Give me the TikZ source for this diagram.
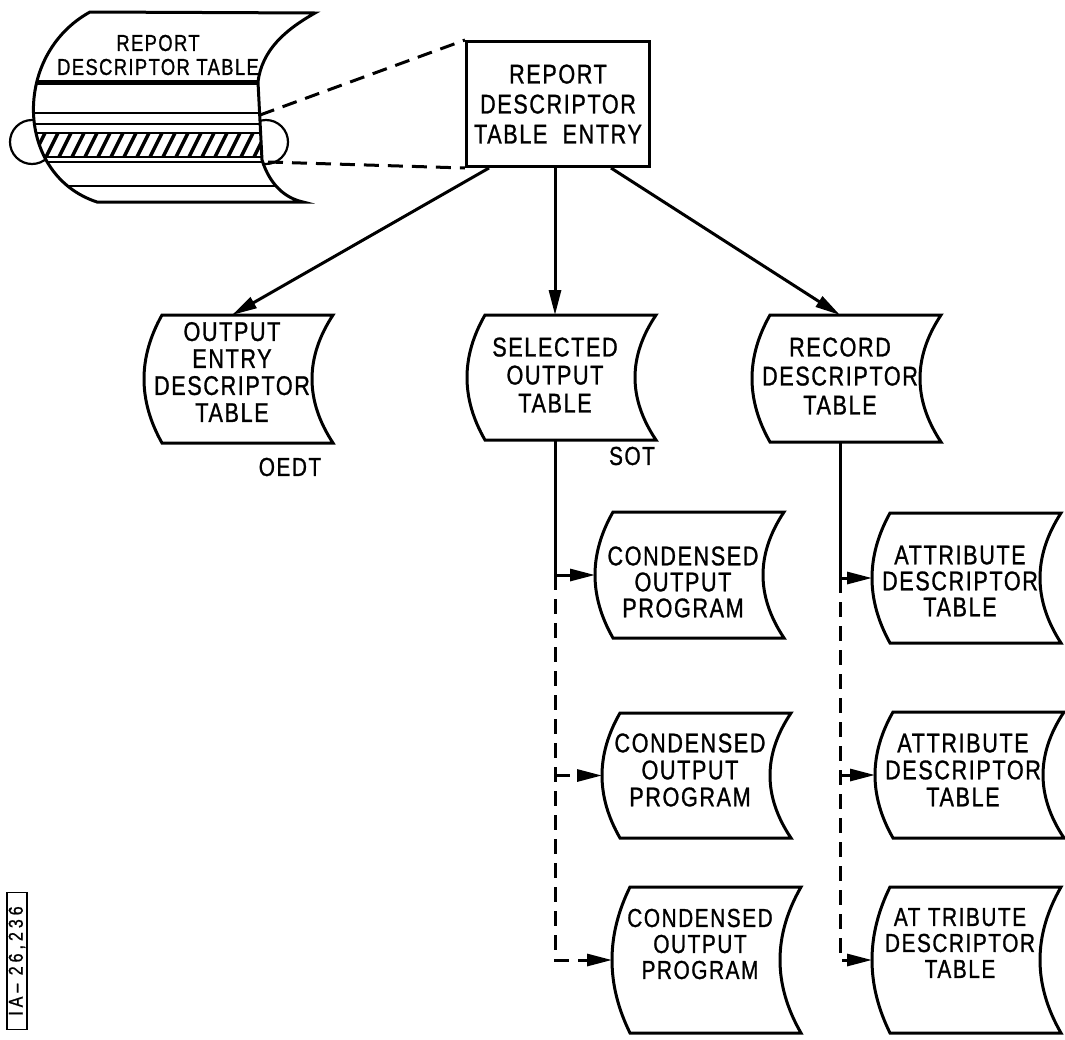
\documentclass[tikz,border=0pt]{standalone}
\usepackage{fontspec}
\setmainfont{Liberation Sans}[FakeStretch=0.8,FakeBold=1,LetterSpace=6]
\usetikzlibrary{arrows.meta,calc}
\begin{document}
\begin{tikzpicture}[x=1pt,y=-1pt,line width=3pt]
        % Styles
        \tikzstyle{sheet}=[align=center,inner sep=0pt,minimum width=176pt,font={\fontsize{27}{28}\selectfont}]
        \tikzstyle{flow}=[-{Triangle[length=25pt,width=12pt]}]
        \tikzstyle{link}=[dash pattern=on 15pt off 9pt]
        \tikzstyle{strip}=[line width=2.2pt]
        \useasboundingbox (0,0) rectangle (1065,1039);
        %the report descriptor table as a tape
        \draw[strip] (32,142) circle (22pt);
        \draw[strip] (266,142) circle (22pt);
        \begin{scope}
            \clip (90,12) -- (315,13) .. controls (285,30) and (262,50) .. (258,82) -- (262,160) .. controls (270,185) and (285,198) .. (303,202) -- (97,202) .. controls (15,175) and (12,55) .. (90,12) -- cycle;
            \fill[white] (0,0) rectangle (330,210);
            \draw[line width=5pt] (0,82) -- (330,82);
            \foreach \y in {113,124,133,157,162,186}
            \draw[strip] (0,\y) -- (330,\y);
            \foreach \x in {20,33,...,280}
            \draw[line width=3.5pt] (\x,157) -- ++(12,-24);
        \end{scope}
        \draw (90,12) -- (315,13) .. controls (285,30) and (262,50) .. (258,82) -- (262,160) .. controls (270,185) and (285,198) .. (303,202) -- (97,202) .. controls (15,175) and (12,55) .. (90,12) -- cycle;
        \node[align=center,font={\fontsize{23}{24}\selectfont}] (tapelabel) at (158,55) {REPORT\\DESCRIPTOR TABLE};
        \coordinate (tape-top) at (260,115);
        \coordinate (tape-bot) at (268,162);
        %the entry
        \node[draw,minimum width=183pt,minimum height=125pt,align=center,font={\fontsize{27}{30}\selectfont}] (entry) at (558,104) {REPORT\\DESCRIPTOR\\TABLE\ \ ENTRY};
        \draw[link] (tape-top) -- (entry.north west);
        \draw[link] (tape-bot) -- (entry.south west);
        %tables and programs
        \node[sheet,font={\fontsize{27}{27}\selectfont}] (oedt) at (232,372) {OUTPUT\\ENTRY\\DESCRIPTOR\\TABLE};
        \node[sheet] (sot) at (555,375) {SELECTED\\OUTPUT\\TABLE};
        \node[sheet,font={\fontsize{27}{29}\selectfont}] (rdt) at (840,376) {RECORD\\DESCRIPTOR\\TABLE};
        \node[sheet,font={\fontsize{27}{26}\selectfont}] (cop1) at (683,582) {CONDENSED\\OUTPUT\\PROGRAM};
        \node[sheet,font={\fontsize{27}{26}\selectfont}] (adt1) at (960,581) {ATTRIBUTE\\DESCRIPTOR\\TABLE};
        \node[sheet,font={\fontsize{27}{27}\selectfont}] (cop2) at (690,770) {CONDENSED\\OUTPUT\\PROGRAM};
        \node[sheet,font={\fontsize{27}{27}\selectfont}] (adt2) at (963,770) {ATTRIBUTE\\DESCRIPTOR\\TABLE};
        \node[sheet,font={\fontsize{26}{26}\selectfont}] (cop3) at (700,944) {CONDENSED\\OUTPUT\\PROGRAM};
        \node[sheet,font={\fontsize{26}{26}\selectfont}] (adt3) at (960,943) {AT TRIBUTE\\DESCRIPTOR\\TABLE};
        \node[font={\fontsize{26}{26}\selectfont}] (oedt-name) at (290,467) {OEDT};
        \node[font={\fontsize{26}{26}\selectfont}] (sot-name) at (632,456) {SOT};
        %outlines
        \foreach \n/\hi/\lo in {oedt/57/71,sot/60/65,rdt/61/66,cop1/70/56,adt1/68/62,cop2/57/68,adt2/58/68,cop3/57/89,adt3/56/90}{
            \coordinate (\n-t) at ($(\n.center)+(0,-\hi)$);
            \coordinate (\n-b) at ($(\n.center)+(0,\lo)$);
            \coordinate (\n-w) at ($(\n.center)+(-88,{(\lo-\hi)/2})$);
            \draw ($(\n-t)+(-70,0)$) -- ($(\n-t)+(101,0)$) .. controls +(-28,{(\hi+\lo)/3}) and +(-28,{-(\hi+\lo)/3}) .. ($(\n-b)+(101,0)$) -- ($(\n-b)+(-70,0)$) .. controls +(-24,{-(\hi+\lo)/3}) and +(-24,{(\hi+\lo)/3}) .. ($(\n-t)+(-70,0)$) -- cycle;
        }
        %connectors
        \draw[flow] ([xshift=24pt]entry.south west) -- (oedt-t);
        \draw[flow] (entry.south -| sot-t) -- (sot-t);
        \draw[flow] ([xshift=-40pt]entry.south east) -- (rdt-t);
        \coordinate (j1) at (sot.center |- cop1-w);
        \coordinate (j2) at (sot.center |- cop2-w);
        \coordinate (j3) at (sot.center |- cop3-w);
        \coordinate (k1) at (rdt.center |- adt1-w);
        \coordinate (k2) at (rdt.center |- adt2-w);
        \coordinate (k3) at (rdt.center |- adt3-w);
        \draw (sot-b) -- (j1);
        \draw[flow] (j1) -- (cop1-w);
        \draw[link,flow] (j1) -- (j3) -- (cop3-w);
        \draw[link,flow] (j2) -- (cop2-w);
        \draw (rdt-b) -- (k1);
        \draw[flow] (k1) -- (adt1-w);
        \draw[link,flow] (k1) -- (k3) -- (adt3-w);
        \draw[link,flow] (k2) -- (adt2-w);
        %drawing number
        \node[draw,line width=1.5pt,rotate=90,minimum width=137pt,minimum height=20pt,inner sep=1pt,font={\fontsize{20}{20}\selectfont\addfontfeature{LetterSpace=20}}] (drawing-no) at (17,961) {IA– 26,236};
\end{tikzpicture}
\end{document}
